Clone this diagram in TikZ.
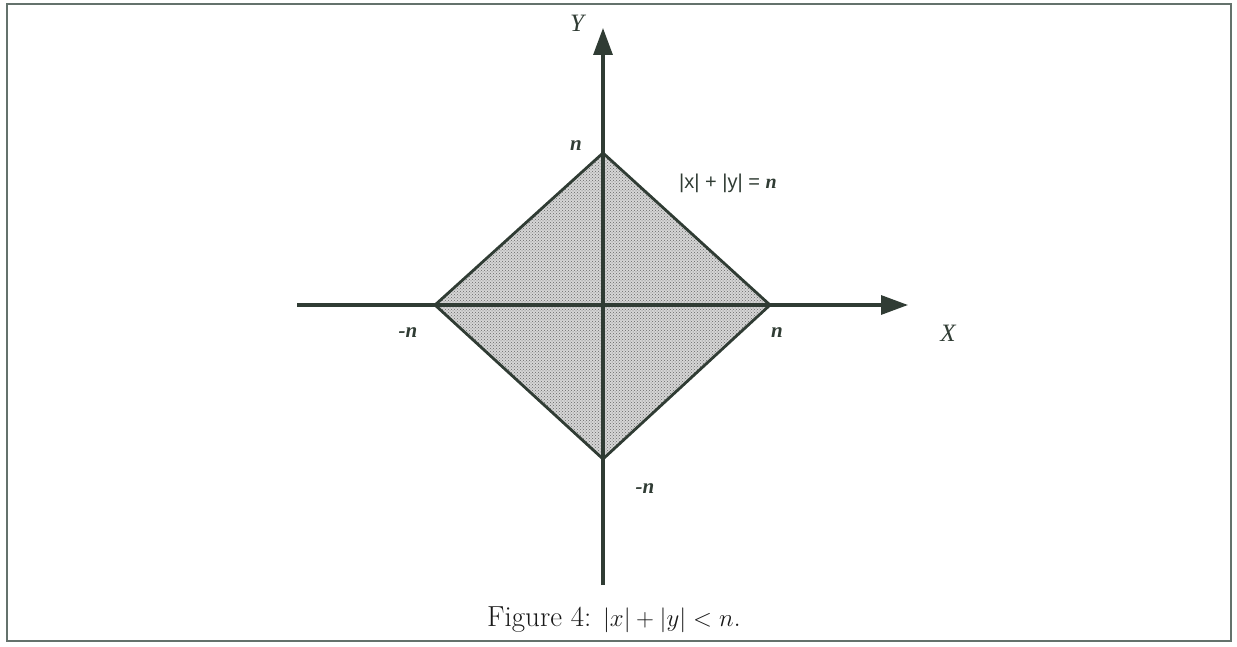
\documentclass[tikz,border=0pt]{standalone}
\usepackage{fontspec}
\usetikzlibrary{arrows.meta,patterns}
\newfontfamily\timesf{Liberation Serif}
\newfontfamily\sansf{Liberation Sans}
\definecolor{ink}{RGB}{48,60,52}
\definecolor{framec}{RGB}{100,114,108}
\begin{document}
\begin{tikzpicture}[x=1pt,y=-1pt,
  axis/.style={line width=3.2pt,draw=ink,-{Triangle[length=27pt,width=19pt]}},
  edge/.style={line width=2.8pt,draw=ink,line join=miter},
  lab/.style={font=\fontsize{21}{24}\timesf\bfseries\itshape,text=ink,inner sep=0pt},
  axlab/.style={font=\fontsize{25}{28}\timesf\itshape,text=ink,inner sep=0pt}]
\useasboundingbox (0,0) rectangle (1237,647);
\draw[framec,line width=2.2pt] (7,4) rectangle (1231,641);
% vertices
\coordinate (T) at (603,153);
\coordinate (B) at (603,459);
\coordinate (L) at (435,305);
\coordinate (R) at (770,305);
\coordinate (xs) at (297,305);
\coordinate (xe) at (908,305);
\coordinate (ys) at (603,585);
\coordinate (ye) at (603,28);
% region
\fill[black!16] (T) -- (R) -- (B) -- (L) -- cycle;
\fill[pattern=crosshatch dots,pattern color=black!60] (T) -- (R) -- (B) -- (L) -- cycle;
\draw[edge] (T) -- (R) -- (B) -- (L) -- cycle;
% axes
\draw[axis] (xs) -- (xe);
\draw[axis] (ys) -- (ye);
% labels
\node[axlab] (Ylab) at (577,23) {Y};
\node[axlab] (Xlab) at (948,333) {X};
\node[lab] (ntop) at (576,146) {n};
\node[lab] (nright) at (777,333) {n};
\node[lab] (nleft) at (408,333) {-n};
\node[lab] (nbot) at (645,489) {-n};
\node[font=\fontsize{20}{23}\sansf,text=ink,inner sep=0pt,anchor=west] (eq) at (679,183) {|x| + |y| = {\timesf\bfseries\itshape n}};
\node[font=\fontsize{29}{34}\selectfont,inner sep=0pt,text=black!90] (cap) at (614,620) {Figure 4: $|x|+|y|<n$.};
\end{tikzpicture}
\end{document}
